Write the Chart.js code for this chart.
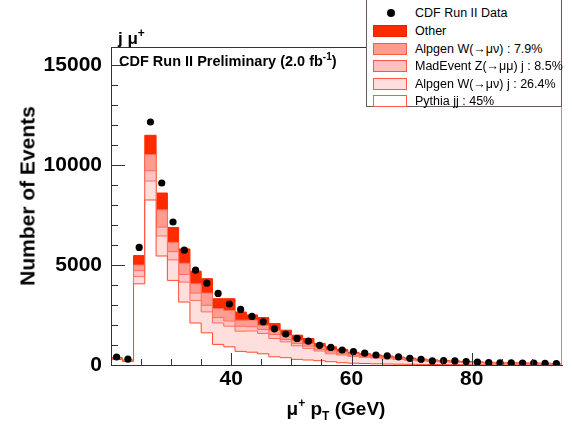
<!DOCTYPE html>
<html><head><meta charset="utf-8">
<script src="https://cdn.jsdelivr.net/npm/chart.js@4/dist/chart.umd.min.js"></script>
<style>
html,body{margin:0;padding:0;background:#fff;}
#wrap{position:relative;width:572px;height:425px;overflow:hidden;font-family:"Liberation Sans",Arial,Helvetica,sans-serif;}
canvas{position:absolute;left:0;top:0;}
.t{position:absolute;white-space:nowrap;color:#000;line-height:1;}
#legend{position:absolute;left:366px;top:-1px;width:196px;height:108px;border:1px solid #6e5a5a;background:#fff;box-sizing:border-box;}
.row{position:absolute;left:0;width:196px;height:17px;}
.sw{position:absolute;left:6px;top:2px;width:34px;height:12px;box-sizing:border-box;border:1px solid #ff5a40;}
.lt{position:absolute;left:48px;top:1px;font-size:12.5px;white-space:nowrap;line-height:15px;}
.dot{position:absolute;left:20px;top:4px;width:8px;height:8px;border-radius:50%;background:#000;}
</style></head><body>
<div id="wrap">
<canvas id="c" width="572" height="425"></canvas>
<div class="t" style="left:118px;top:30px;font-weight:bold;font-size:17px;">j μ<span style="font-size:12px;position:relative;top:-7px;">+</span></div>
<div class="t" style="left:119px;top:54px;font-weight:bold;font-size:14.5px;">CDF Run II Preliminary (2.0 fb<span style="font-size:10px;position:relative;top:-6px;">-1</span>)</div>
<div class="t" style="left:27px;top:196px;transform:translate(-50%,-50%) rotate(-90deg);font-weight:bold;font-size:21px;">Number of Events</div>
<div class="t" style="left:336px;top:408px;transform:translate(-50%,-50%);font-weight:bold;font-size:19px;">μ<span style="font-size:12px;position:relative;top:-8px;">+</span> p<span style="font-size:12px;position:relative;top:5px;">T</span> (GeV)</div>
<div id="legend">
  <div class="row" style="top:5px;"><div class="dot"></div><div class="lt">CDF Run II Data</div></div>
  <div class="row" style="top:23px;"><div class="sw" style="background:#ff2a00;border-color:#e82200;"></div><div class="lt">Other</div></div>
  <div class="row" style="top:41px;"><div class="sw" style="background:#ff9c92;"></div><div class="lt">Alpgen W(→μν) : 7.9%</div></div>
  <div class="row" style="top:58px;"><div class="sw" style="background:#ffc2c0;"></div><div class="lt">MadEvent Z(→μμ) j : 8.5%</div></div>
  <div class="row" style="top:76px;"><div class="sw" style="background:#ffdede;"></div><div class="lt">Alpgen W(→μν) j : 26.4%</div></div>
  <div class="row" style="top:93px;"><div class="sw" style="background:#ffffff;"></div><div class="lt">Pythia jj : 45%</div></div>
</div>
</div>
<script>
// Bin edges of the muon pT histogram (GeV)
const binEdges = [20, 21.875, 23.75, 25.625, 27.5, 29.375, 31.25, 33.125, 35, 36.875,
  38.75, 40.625, 42.5, 44.375, 46.25, 48.125, 50, 51.875, 53.75, 55.625,
  57.5, 59.375, 61.25, 63.125, 65, 66.875, 68.75, 70.625, 72.5, 74.375,
  76.25, 78.125, 80, 81.875, 83.75, 85.625, 87.5, 89.375, 91.25, 93.125, 95];

// CDF Run II data (events per bin)
const cdfData = [400, 290, 5880, 12150, 9100, 7150, 5740, 4740, 4090, 3580,
  3050, 2780, 2430, 2160, 1810, 1550, 1330, 1190, 985, 880,
  750, 670, 590, 500, 460, 410, 335, 285, 205, 215,
  205, 170, 145, 120, 110, 105, 100, 95, 85, 75];

// MC components (events per bin), bottom of stack first
const pythiaJJ = [280, 180, 4060, 8250, 5450, 4230, 3150, 2100, 1610, 1030,
  910, 680, 640, 560, 410, 365, 280, 250, 215, 165,
  115, 90, 75, 60, 50, 40, 35, 30, 25, 20,
  18, 15, 13, 11, 10, 9, 8, 7, 6, 5];
const alpgenWj = [40, 30, 360, 950, 1000, 1025, 995, 1130, 1045, 1070,
  1030, 1010, 1060, 1015, 915, 795, 680, 580, 485, 395,
  385, 345, 310, 285, 260, 235, 200, 170, 150, 135,
  120, 105, 92, 80, 74, 70, 66, 62, 56, 48];
const madeventZj = [10, 10, 300, 515, 445, 415, 380, 365, 330, 270,
  260, 250, 215, 200, 200, 115, 120, 115, 80, 85,
  60, 55, 50, 45, 40, 35, 30, 25, 20, 20,
  17, 15, 14, 12, 11, 10, 9, 9, 8, 7];
const alpgenW = [10, 10, 280, 810, 865, 465, 565, 465, 615, 450,
  530, 300, 330, 215, 215, 215, 160, 135, 130, 100,
  100, 75, 65, 55, 50, 45, 40, 35, 30, 25,
  22, 20, 17, 15, 13, 12, 11, 10, 9, 8];
const otherBkg = [30, 20, 470, 960, 840, 740, 715, 630, 715, 495,
  585, 410, 260, 380, 330, 250, 250, 245, 170, 165,
  120, 70, 65, 55, 50, 45, 40, 35, 30, 25,
  23, 20, 18, 16, 14, 13, 12, 11, 10, 10];

const xTickLabels = [40, 60, 80];
const yTickLabels = [0, 5000, 10000, 15000];

// cumulative stack table
const layers = [pythiaJJ, alpgenWj, madeventZj, alpgenW, otherBkg];
const cumulative = [];
let running = pythiaJJ.map(() => 0);
layers.forEach(l => { running = running.map((v, i) => v + l[i]); cumulative.push(running.slice()); });
const stepPoints = arr => arr.map((v, i) => ({x: binEdges[i], y: v})).concat([{x: binEdges[binEdges.length - 1], y: arr[arr.length - 1]}]);
const centers = cdfData.map((_, i) => (binEdges[i] + binEdges[i + 1]) / 2);

const fills = ['#ffffff', '#ffdede', '#ffc2c0', '#ff9c92', '#ff2a00'];
const lines = ['#ff4a30', '#ff6e5c', '#ff6e5c', '#ff6e5c', '#ff2a00'];
const labels = ['Pythia jj', 'Alpgen W(→μν) j', 'MadEvent Z(→μμ) j', 'Alpgen W(→μν)', 'Other'];

const datasets = [{
  label: 'CDF Run II Data', type: 'line', showLine: false,
  data: centers.map((c, i) => ({x: c, y: cdfData[i]})),
  pointRadius: 3.6, pointBackgroundColor: '#000', pointBorderWidth: 0, order: 0
}];
for (let k = 4; k >= 0; k--) {
  datasets.push({
    label: labels[k], type: 'line', data: stepPoints(cumulative[k]),
    stepped: true, fill: 'origin', backgroundColor: fills[k], borderColor: lines[k],
    borderWidth: 1, pointRadius: 0, tension: 0, order: k + 1
  });
}

const FONT = '"Liberation Sans", Arial, Helvetica, sans-serif';
const rootTicks = {
  id: 'rootTicks',
  afterDatasetsDraw(chart) {
    const {ctx, chartArea: a, scales: {x, y}} = chart;
    ctx.save();
    ctx.strokeStyle = '#333';
    ctx.lineWidth = 1;
    ctx.beginPath();
    for (let v = 0; v <= 15000; v += 1000) {
      const py = Math.round(y.getPixelForValue(v)) + 0.5;
      const len = v % 5000 === 0 ? 14 : 7;
      ctx.moveTo(a.left, py); ctx.lineTo(a.left + len, py);
    }
    for (let v = 25; v <= 90; v += 5) {
      const px = Math.round(x.getPixelForValue(v)) + 0.5;
      const len = v % 20 === 0 ? 12 : 6;
      ctx.moveTo(px, a.bottom); ctx.lineTo(px, a.bottom - len);
    }
    ctx.stroke();
    ctx.beginPath();
    ctx.moveTo(a.left, Math.round(a.top) + 0.5); ctx.lineTo(a.right, Math.round(a.top) + 0.5);
    ctx.stroke();
    ctx.strokeStyle = '#a89494';
    ctx.beginPath();
    ctx.moveTo(Math.round(a.right) - 0.5, a.top); ctx.lineTo(Math.round(a.right) - 0.5, a.bottom);
    ctx.stroke();
    ctx.restore();
  }
};

new Chart(document.getElementById('c'), {
  type: 'line',
  data: {datasets},
  options: {
    responsive: false, animation: false, devicePixelRatio: 1,
    layout: {padding: {left: 0, right: 10, top: 47, bottom: 0}},
    plugins: {legend: {display: false}, tooltip: {enabled: false}},
    scales: {
      x: {
        type: 'linear', min: 20, max: 95,
        grid: {display: false, drawTicks: false},
        border: {display: true, color: '#333', width: 1, z: 1},
        ticks: {color: '#000', font: {family: FONT, size: 21, weight: 'bold'}, padding: 2, maxRotation: 0, autoSkip: false,
                callback: v => String(v)},
        afterBuildTicks: s => { s.ticks = xTickLabels.map(v => ({value: v})); },
        afterFit: s => { s.height = 60; }
      },
      y: {
        type: 'linear', min: 0, max: 15900,
        grid: {display: false, drawTicks: false},
        border: {display: true, color: '#333', width: 1, z: 1},
        ticks: {color: '#000', font: {family: FONT, size: 21, weight: 'bold'}, padding: 9,
                callback: v => String(v)},
        afterBuildTicks: s => { s.ticks = yTickLabels.map(v => ({value: v})); },
        afterFit: s => { s.width = 111; }
      }
    }
  },
  plugins: [rootTicks]
});
</script>
</body></html>
